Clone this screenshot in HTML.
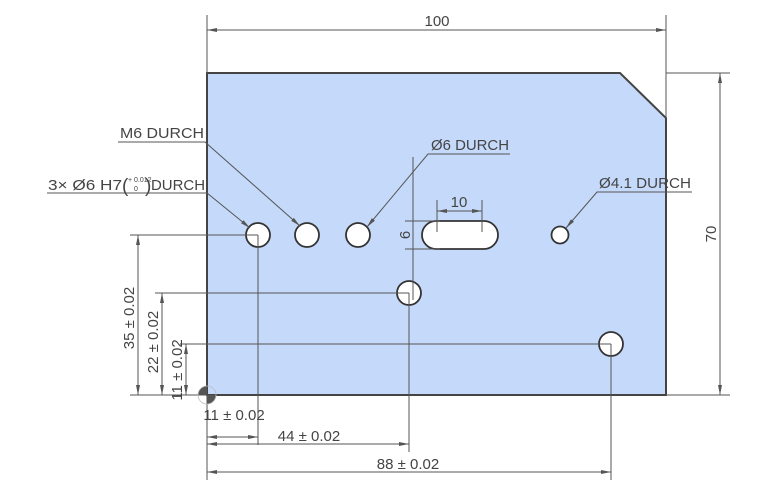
<!DOCTYPE html>
<html><head><style>body{margin:0;background:#fff}svg{display:block}text{font-family:"Liberation Sans",sans-serif;fill:#444;font-size:15px}</style></head><body>
<svg width="780" height="490" viewBox="0 0 780 490">
<defs><marker id="a" viewBox="0 0 10 4" refX="10" refY="2" markerWidth="10" markerHeight="4" orient="auto-start-reverse"><path d="M0,0L10,2L0,4z" fill="#555"/></marker></defs>
<path d="M207,73H620L666,118V395H207Z" fill="#c5d9fa" stroke="#444" stroke-width="2"/>
<g fill="#fff" stroke="#333" stroke-width="1.8">
<circle cx="258" cy="235" r="12"/><circle cx="307" cy="235" r="12"/><circle cx="358" cy="235" r="12"/>
<circle cx="409" cy="293" r="12"/><circle cx="611" cy="344" r="12"/><circle cx="560" cy="235" r="8.5"/>
<rect x="422" y="221" width="76" height="28" rx="14"/>
</g>
<g stroke="#555" stroke-width="1" fill="none">
<line x1="207" y1="15" x2="207" y2="73"/><line x1="666" y1="15" x2="666" y2="118"/>
<line x1="207" y1="30" x2="666" y2="30" marker-start="url(#a)" marker-end="url(#a)"/>
<line x1="666" y1="73" x2="730" y2="73"/><line x1="666" y1="395" x2="730" y2="395"/>
<line x1="720" y1="73" x2="720" y2="395" marker-start="url(#a)" marker-end="url(#a)"/>
<line x1="437" y1="200" x2="437" y2="232"/><line x1="482" y1="200" x2="482" y2="232"/>
<line x1="437" y1="211" x2="482" y2="211" marker-start="url(#a)" marker-end="url(#a)"/>
<line x1="405" y1="221" x2="440" y2="221"/><line x1="405" y1="249" x2="440" y2="249"/>
<line x1="413" y1="157" x2="413" y2="300"/>
<line x1="207" y1="395" x2="207" y2="480"/>
<line x1="258" y1="235" x2="258" y2="445"/><line x1="409" y1="293" x2="409" y2="452"/><line x1="611" y1="344" x2="611" y2="480"/>
<line x1="207" y1="437" x2="258" y2="437" marker-start="url(#a)" marker-end="url(#a)"/>
<line x1="207" y1="444" x2="409" y2="444" marker-start="url(#a)" marker-end="url(#a)"/>
<line x1="207" y1="472" x2="611" y2="472" marker-start="url(#a)" marker-end="url(#a)"/>
<line x1="130" y1="395" x2="207" y2="395"/>
<line x1="130" y1="235" x2="258" y2="235"/><line x1="155" y1="293" x2="409" y2="293"/><line x1="180" y1="344" x2="611" y2="344"/>
<line x1="138" y1="235" x2="138" y2="395" marker-start="url(#a)" marker-end="url(#a)"/>
<line x1="162" y1="293" x2="162" y2="395" marker-start="url(#a)" marker-end="url(#a)"/>
<line x1="186" y1="344" x2="186" y2="395" marker-start="url(#a)" marker-end="url(#a)"/>
<polyline points="118,142 205,142 300,226" marker-end="url(#a)"/>
<polyline points="47,193 207,193 250,228" marker-end="url(#a)"/>
<polyline points="510,154 428,154 367,227" marker-end="url(#a)"/>
<polyline points="692,192 597,192 566,228" marker-end="url(#a)"/>
</g>
<path d="M207,395m-9,0a9,9 0 0 1 9,-9v9z M207,395h9a9,9 0 0 1 -9,9z" fill="#555"/>
<circle cx="207" cy="395" r="9" fill="none" stroke="#bbb" stroke-width="0.8"/>
<text x="437" y="26" text-anchor="middle">100</text>
<text transform="translate(716,234) rotate(-90)" text-anchor="middle">70</text>
<text x="459" y="207" text-anchor="middle">10</text>
<text transform="translate(410,235) rotate(-90)" text-anchor="middle">6</text>
<text x="120" y="138" textLength="84" lengthAdjust="spacingAndGlyphs">M6 DURCH</text>
<text x="48" y="190" textLength="74" lengthAdjust="spacingAndGlyphs">3× Ø6 H7</text>
<text x="122" y="192" style="font-size:19px">(</text>
<text x="128" y="182" style="font-size:7px">+ 0.012</text>
<text x="134" y="191" style="font-size:7px">0</text>
<text x="145" y="192" style="font-size:19px">)</text>
<text x="151" y="190" textLength="54" lengthAdjust="spacingAndGlyphs">DURCH</text>
<text x="431" y="150" textLength="78" lengthAdjust="spacingAndGlyphs">Ø6 DURCH</text>
<text x="599" y="188" textLength="92" lengthAdjust="spacingAndGlyphs">Ø4.1 DURCH</text>
<text x="234" y="420" text-anchor="middle">11 ± 0.02</text>
<text x="309" y="441" text-anchor="middle">44 ± 0.02</text>
<text x="408" y="469" text-anchor="middle">88 ± 0.02</text>
<text transform="translate(134,318) rotate(-90)" text-anchor="middle">35 ± 0.02</text>
<text transform="translate(158,342) rotate(-90)" text-anchor="middle">22 ± 0.02</text>
<text transform="translate(182,370) rotate(-90)" text-anchor="middle">11 ± 0.02</text>
</svg>
</body></html>
